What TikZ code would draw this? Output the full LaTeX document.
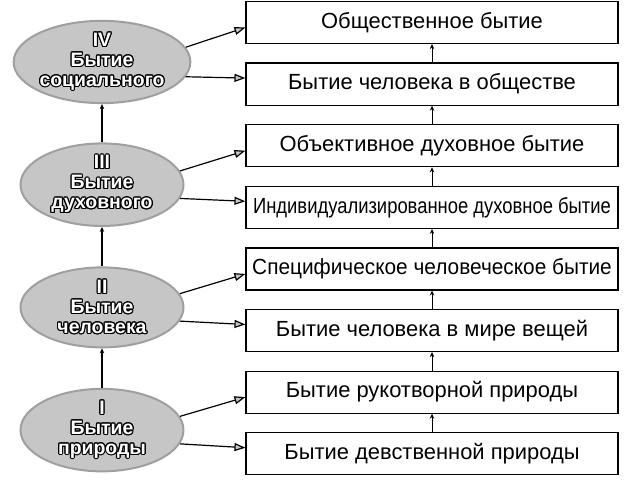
\documentclass[tikz,border=0pt]{standalone}
\usepackage{fontspec}
\setmainfont{Liberation Sans}
\usepackage{contour}
\contourlength{1.1pt}
\usetikzlibrary{positioning, arrows.meta, shapes.geometric}

\tikzset{
  box/.style={draw, line width=1.2pt, minimum width=372bp, minimum height=42bp,
    inner sep=1pt, font=\fontsize{22}{24}\selectfont},
  sphere/.style={ellipse, draw=gray!75, line width=2pt, fill=gray!45, text=white,
    minimum width=163bp, minimum height=80bp, inner sep=0pt, align=center,
    font=\bfseries\fontsize{19.5}{20}\selectfont},
  up/.style={-{Stealth[length=5pt, width=4.5pt]}, line width=1pt},
  link/.style={-{Triangle[length=11pt, width=8pt, fill=gray!45]}, line width=1.2pt}
}

\begin{document}
\begin{tikzpicture}[x=1bp, y=-1bp, node distance=61.6bp, semithick]
      \useasboundingbox (0,0) rectangle (636,500);

      \node[box] (social) at (432,22.5) {Общественное бытие};
      \node[box] (insoc) [below of=social] {Бытие человека в обществе};
      \node[box] (objs) [below of=insoc] {Объективное духовное бытие};
      \node[box] (indiv) [below of=objs]
        {\scalebox{0.84}[1]{Индивидуализированное духовное бытие}};
      \node[box] (spec) [below of=indiv]
        {\scalebox{0.95}[1]{Специфическое человеческое бытие}};
      \node[box] (thing) [below of=spec] {Бытие человека в мире вещей};
      \node[box] (made) [below of=thing] {Бытие рукотворной природы};
      \node[box] (virg) [below of=made] {Бытие девственной природы};

      \node[sphere] (soc) at (102,62)
        {\contour{black}{IV}\\\contour{black}{Бытие}\\\contour{black}{социального}};
      \node[sphere, node distance=122.7bp] (spi) [below of=soc]
        {\contour{black}{III}\\\contour{black}{Бытие}\\\contour{black}{духовного}};
      \node[sphere, node distance=122.7bp] (hum) [below of=spi]
        {\contour{black}{II}\\\contour{black}{Бытие}\\\contour{black}{человека}};
      \node[sphere, node distance=122.7bp] (nat) [below of=hum]
        {\contour{black}{I}\\\contour{black}{Бытие}\\\contour{black}{природы}};

      \path[up] (virg) edge (made)
      (made) edge (thing)
      (thing) edge (spec)
      (spec) edge (indiv)
      (indiv) edge (objs)
      (objs) edge (insoc)
      (insoc) edge (social);

      \path[up, line width=1.5pt] (nat) edge (hum)
      (hum) edge (spi)
      (spi) edge (soc);

      \path[link] (soc.10) edge ([yshift=-5bp]social.west)
      (soc.-10) edge ([yshift=6bp]insoc.west)
      (spi.10) edge ([yshift=-5bp]objs.west)
      (spi.-10) edge ([yshift=6bp]indiv.west)
      (hum.10) edge ([yshift=-5bp]spec.west)
      (hum.-10) edge ([yshift=6bp]thing.west)
      (nat.10) edge ([yshift=-5bp]made.west)
      (nat.-10) edge ([yshift=6bp]virg.west);
    \end{tikzpicture}
\end{document}
